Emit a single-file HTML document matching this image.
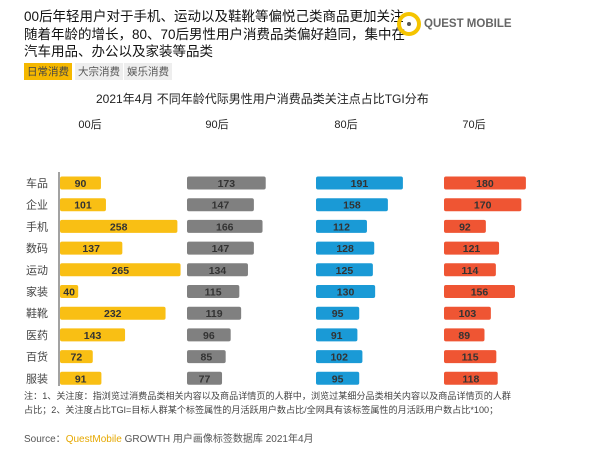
<!DOCTYPE html>
<html><head><meta charset="utf-8"><style>
body{margin:0;background:#fff;}
#root{position:relative;width:600px;height:450px;overflow:hidden;font-family:"Liberation Sans","Noto Sans CJK SC",sans-serif;color:#222;}
.t{position:absolute;white-space:nowrap;}
</style></head><body>
<div id="root">
<div class="t" style="left:24px;top:8px;font-size:13.5px;line-height:17.5px;color:#111;">00后年轻用户对于手机、运动以及鞋靴等偏悦己类商品更加关注<br>随着年龄的增长，80、70后男性用户消费品类偏好趋同，集中在<br>汽车用品、办公以及家装等品类</div>
<div style="position:absolute;left:397px;top:12px;width:24px;height:24px;border:4px solid #f5c400;border-radius:50%;box-sizing:border-box;"><div style="position:absolute;left:6px;top:6px;width:4px;height:4px;background:#555;border-radius:50%"></div></div>
<div class="t" style="left:424px;top:18px;font-size:11.5px;font-weight:bold;color:#666;">QUEST MOBILE</div>
<div class="t" style="left:24px;top:63px;font-size:10.5px;background:#f5b800;color:#444;padding:1px 3px;">日常消费</div>
<div class="t" style="left:75px;top:63px;font-size:10.5px;background:#eee;color:#555;padding:1px 3px;">大宗消费</div>
<div class="t" style="left:124px;top:63px;font-size:10.5px;background:#eee;color:#555;padding:1px 3px;">娱乐消费</div>
<div class="t" style="left:96px;top:90px;font-size:12px;color:#222;">2021年4月 不同年龄代际男性用户消费品类关注点占比TGI分布</div>
<svg id="chart" width="600" height="450" style="position:absolute;left:0;top:0"></svg>
<div class="t" style="left:24px;top:389px;font-size:9.1px;line-height:14px;color:#444;">注：1、关注度：指浏览过消费品类相关内容以及商品详情页的人群中，浏览过某细分品类相关内容以及商品详情页的人群<br>占比；2、关注度占比TGI=目标人群某个标签属性的月活跃用户数占比/全网具有该标签属性的月活跃用户数占比*100；</div>
<div class="t" style="left:24px;top:430px;font-size:10px;color:#555;">Source：<span style="color:#e6a800">QuestMobile</span> GROWTH 用户画像标签数据库 2021年4月</div>
</div>
<script>
const categories=["车品","企业","手机","数码","运动","家装","鞋靴","医药","百货","服装"];
const groups=["00后","90后","80后","70后"];
const v00=[90,101,258,137,265,40,232,143,72,91];
const v90=[173,147,166,147,134,115,119,96,85,77];
const v80=[191,158,112,128,125,130,95,91,102,95];
const v70=[180,170,92,121,114,156,103,89,115,118];
const series=[v00,v90,v80,v70];
const colors=["#f9bf14","#808080","#1a9ad6","#ef5533"];
const bases=[60,187,316,444];
const NS="http://www.w3.org/2000/svg";
const svg=document.getElementById('chart');
const xs=v=>v*0.455;
const ys=i=>183+i*21.7;
function mk(tag,attrs){const e=document.createElementNS(NS,tag);for(const k in attrs)e.setAttribute(k,attrs[k]);svg.appendChild(e);return e;}
const ax=mk('line',{x1:59,y1:172,x2:59,y2:386,stroke:'#444','stroke-width':1});


categories.forEach((c,i)=>{const t=mk('text',{x:26,y:ys(i)+4,'font-size':11,fill:'#444'});t.textContent=c;

});
groups.forEach((g,j)=>{const t=mk('text',{x:bases[j]+30,y:128,'font-size':11,fill:'#222','text-anchor':'middle'});t.textContent=g;

});
series.forEach((vals,j)=>{vals.forEach((v,i)=>{
const w=xs(v);
const r=mk('rect',{x:bases[j],y:ys(i)-6.5,width:w,height:13,rx:2,fill:colors[j]});


const t=mk('text',{x:bases[j]+w/2,y:ys(i)+4,'font-size':10.5,'font-weight':'bold',fill:'#333','text-anchor':'middle'});t.textContent=v;


});});
</script>
</body></html>
